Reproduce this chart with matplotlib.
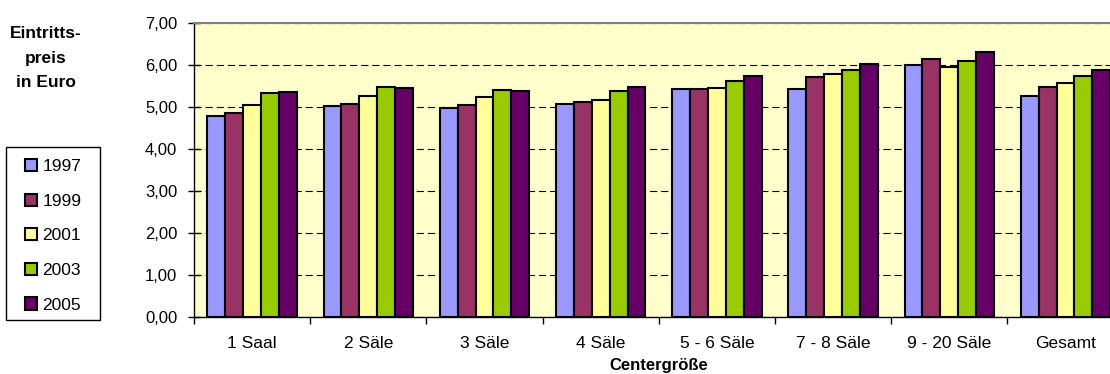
import numpy as np
import matplotlib.pyplot as plt
from matplotlib.patches import Patch, Rectangle

plt.rcParams["font.family"] = ["Liberation Sans", "DejaVu Sans"]

# Durchschnittlicher Eintrittspreis nach Centergröße
categories = ["1 Saal", "2 Säle", "3 Säle", "4 Säle", "5 - 6 Säle",
              "7 - 8 Säle", "9 - 20 Säle", "Gesamt"]
years = ["1997", "1999", "2001", "2003", "2005"]
prices_1997 = [4.77, 5.02, 4.98, 5.07, 5.43, 5.41, 5.99, 5.26]
prices_1999 = [4.86, 5.06, 5.04, 5.11, 5.41, 5.71, 6.14, 5.47]
prices_2001 = [5.03, 5.26, 5.24, 5.17, 5.45, 5.79, 5.95, 5.57]
prices_2003 = [5.33, 5.46, 5.39, 5.37, 5.61, 5.87, 6.09, 5.74]
prices_2005 = [5.36, 5.44, 5.38, 5.48, 5.72, 6.01, 6.30, 5.88]
series = [prices_1997, prices_1999, prices_2001, prices_2003, prices_2005]
colors = ["#9999FF", "#993366", "#FFFF99", "#99CC00", "#660066"]

W, H = 1110, 374
fig = plt.figure(figsize=(W / 100, H / 100), dpi=100)
ax = fig.add_axes([0.1748, 0.1532, 0.8374, 0.7861])
ax.set_facecolor("#FFFFCC")

x = np.arange(len(categories))
width = 1 / 6.5
for j, (vals, col) in enumerate(zip(series, colors)):
    ax.bar(x + (j - 2) * width, vals, width, color=col,
           edgecolor="black", linewidth=1.5, zorder=3)

ax.set_xlim(-0.5, len(categories) - 0.5)
ax.set_ylim(0, 7)
ax.set_yticks(np.arange(0, 8, 1))
ax.set_yticklabels([f"{v:.2f}".replace(".", ",") for v in range(8)], fontsize=12)
ax.yaxis.grid(True, color="black", linestyle=(0, (6.5, 3.5)), linewidth=0.8, zorder=1)
ax.tick_params(axis="y", direction="inout", length=8, width=1, pad=8)

# group boundaries as major ticks, names on minor ticks
ax.set_xticks(np.arange(-0.5, len(categories), 1))
ax.set_xticklabels([])
ax.set_xticks(x, minor=True)
ax.set_xticklabels(categories, minor=True, fontsize=12.5)
ax.tick_params(axis="x", which="major", direction="out", length=5, width=1)
ax.tick_params(axis="x", which="minor", length=0, pad=14)
ax.set_xlabel("Centergröße", fontsize=12, fontweight="bold", labelpad=5)

for side in ["top", "right"]:
    ax.spines[side].set_color("#808080")
    ax.spines[side].set_linewidth(1.5)
ax.spines["left"].set_linewidth(1)
ax.spines["bottom"].set_linewidth(1)

fig.text(46 / W, 1 - 58 / H, "Eintritts-\npreis\nin Euro", ha="center",
         va="center", fontsize=12.5, fontweight="bold", linespacing=1.8)

# legend entries without frame, box drawn separately
handles = [Patch(facecolor=c, edgecolor="black", linewidth=1.5) for c in colors]
fig.legend(handles, years, loc="upper left",
           bbox_to_anchor=(25 / W, 1 - 159 / H), fontsize=12.5,
           frameon=False, handlelength=0.7, handleheight=0.7,
           handletextpad=0.3, labelspacing=1.12, borderpad=0, borderaxespad=0)
fig.patches.append(Rectangle((6 / W, 1 - 320 / H), 94 / W, 173 / H,
                             transform=fig.transFigure, facecolor="white",
                             edgecolor="black", linewidth=1, zorder=0))

fig.savefig("out.png", dpi=100)
